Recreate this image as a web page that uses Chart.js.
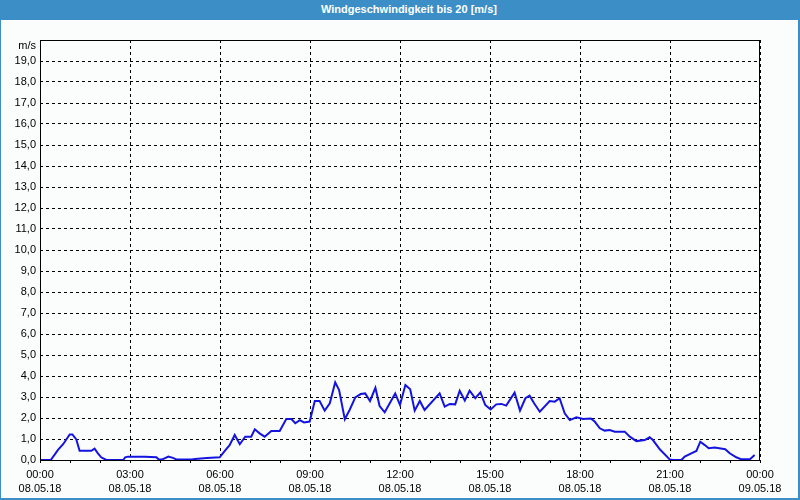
<!DOCTYPE html>
<html>
<head>
<meta charset="utf-8">
<script src="https://cdn.jsdelivr.net/npm/chart.js@4"></script>
<style>
  html, body { margin: 0; padding: 0; background: #fff; }
  #frame {
    position: absolute; left: 0; top: 0; width: 800px; height: 500px;
    background: #3c8fc6; overflow: hidden;
  }
  #title {
    position: absolute; left: 321px; top: 3px;
    color: #fff; font: bold 11px "Liberation Sans", Arial, sans-serif;
    white-space: nowrap;
  }
  #plot {
    position: absolute; left: 1px; top: 20px; width: 797px; height: 478px;
    background: #fbfdfc;
  }
</style>
</head>
<body>
<div id="frame">
  <div id="title">Windgeschwindigkeit bis 20 [m/s]</div>
  <div id="plot"><canvas id="windChart" width="797" height="478"></canvas></div>
</div>
<script>
// ==========================
// DATA (hours since 08.05.18 00:00, m/s)
// ==========================
const hours = [
  0, 0.36, 0.60, 0.77, 0.99, 1.08, 1.21, 1.32, 1.71, 1.82, 1.93, 2.04, 2.21, 2.77, 2.84, 2.93,
  3.49, 3.88, 3.96, 4.06, 4.28, 4.43, 4.56, 5.06, 5.17, 5.56, 5.99, 6.16, 6.32, 6.49, 6.66, 6.84,
  7.04, 7.16, 7.32, 7.49, 7.71, 7.99, 8.21, 8.38, 8.51, 8.66, 8.80, 8.99, 9.16, 9.32, 9.49, 9.66,
  9.84, 9.97, 10.16, 10.32, 10.51, 10.69, 10.84, 11.00, 11.18, 11.32, 11.49, 11.84, 12.00, 12.18,
  12.34, 12.49, 12.66, 12.82, 13.32, 13.49, 13.66, 13.84, 13.99, 14.16, 14.32, 14.51, 14.68, 14.84,
  15.02, 15.21, 15.38, 15.54, 15.82, 16.00, 16.18, 16.32, 16.47, 16.66, 16.99, 17.16, 17.32, 17.49,
  17.66, 17.88, 18.10, 18.36, 18.49, 18.66, 18.82, 18.99, 19.16, 19.49, 19.66, 19.88, 20.16, 20.32,
  20.43, 20.66, 20.99, 21.10, 21.38, 21.49, 21.71, 21.88, 22.01, 22.16, 22.29, 22.49, 22.84, 22.99,
  23.21, 23.38, 23.66, 23.82
];
const speed = [
  0, 0, 0.48, 0.75, 1.22, 1.22, 0.98, 0.44, 0.44, 0.54, 0.32, 0.13, 0, 0, 0.13, 0.16,
  0.16, 0.13, 0.02, 0.02, 0.16, 0.10, 0.02, 0.02, 0.05, 0.10, 0.13, 0.44, 0.71, 1.19, 0.75, 1.11,
  1.11, 1.46, 1.27, 1.11, 1.38, 1.38, 1.95, 1.95, 1.75, 1.90, 1.79, 1.83, 2.81, 2.81, 2.35, 2.70,
  3.70, 3.33, 1.94, 2.38, 2.98, 3.14, 3.17, 2.81, 3.44, 2.57, 2.27, 3.17, 2.62, 3.57,
  3.37, 2.35, 2.81, 2.38, 3.17, 2.54, 2.67, 2.65, 3.30, 2.83, 3.30, 2.94, 3.22, 2.62,
  2.41, 2.65, 2.67, 2.59, 3.21, 2.35, 2.94, 3.06, 2.70, 2.30, 2.81, 2.78, 2.94, 2.22,
  1.90, 2.03, 1.95, 1.98, 1.83, 1.51, 1.40, 1.43, 1.35, 1.35, 1.11, 0.90, 0.95, 1.08,
  0.95, 0.51, 0.03, 0, 0, 0.16, 0.32, 0.43, 0.87, 0.71, 0.56, 0.59, 0.51, 0.32,
  0.13, 0.03, 0.03, 0.24
];

const xTickTimes = ["00:00", "03:00", "06:00", "09:00", "12:00", "15:00", "18:00", "21:00", "00:00"];
const xTickDates = ["08.05.18", "08.05.18", "08.05.18", "08.05.18", "08.05.18", "08.05.18", "08.05.18", "08.05.18", "09.05.18"];
const yUnit = "m/s";

const tickFont = { family: "'Liberation Sans', Arial, sans-serif", size: 11 };

// plot frame + unit label
const framePlugin = {
  id: "frame",
  afterDraw(chart) {
    const { ctx, chartArea: a } = chart;
    ctx.save();
    ctx.strokeStyle = "#000";
    ctx.lineWidth = 1;
    ctx.setLineDash([]);
    ctx.strokeRect(a.left + 0.5, a.top + 0.5, a.right - a.left - 1, a.bottom - a.top);
    ctx.fillStyle = "#000";
    ctx.font = "11px 'Liberation Sans', Arial, sans-serif";
    ctx.textAlign = "right";
    ctx.textBaseline = "middle";
    ctx.fillText(yUnit, a.left - 4, a.top + 6);
    ctx.restore();
  }
};

new Chart(document.getElementById("windChart"), {
  type: "line",
  data: {
    datasets: [{
      data: hours.map((h, i) => ({ x: h, y: speed[i] })),
      borderColor: "#1414e0",
      borderWidth: 2,
      pointRadius: 0,
      tension: 0,
      fill: false
    }]
  },
  options: {
    responsive: false,
    animation: false,
    layout: { padding: { left: 0, right: 38, top: 20, bottom: 0 } },
    plugins: { legend: { display: false }, tooltip: { enabled: false } },
    scales: {
      x: {
        type: "linear",
        min: 0,
        max: 24,
        afterFit: (s) => { s.height = 38; },
        ticks: {
          stepSize: 1,
          autoSkip: false,
          maxRotation: 0,
          padding: 5,
          color: "#000",
          font: { ...tickFont, lineHeight: 1.3 },
          callback: (v) => v % 3 === 0 ? [xTickTimes[v / 3], xTickDates[v / 3]] : ""
        },
        grid: {
          color: (c) => (c.tick && c.tick.value % 3 === 0) ? "#000" : "rgba(0,0,0,0)",
          tickColor: "#000",
          tickLength: 3,
          lineWidth: 1
        },
        border: { display: false, dash: [3, 3] }
      },
      y: {
        min: 0,
        max: 20,
        afterFit: (s) => { s.width = 39; },
        ticks: {
          stepSize: 1,
          autoSkip: false,
          padding: 4,
          color: "#000",
          font: tickFont,
          callback: (v) => v === 20 ? "" : v.toFixed(1).replace(".", ",")
        },
        grid: { color: "#000", lineWidth: 1, drawTicks: false },
        border: { display: false, dash: [3, 3] }
      }
    }
  },
  plugins: [framePlugin]
});
</script>
</body>
</html>
